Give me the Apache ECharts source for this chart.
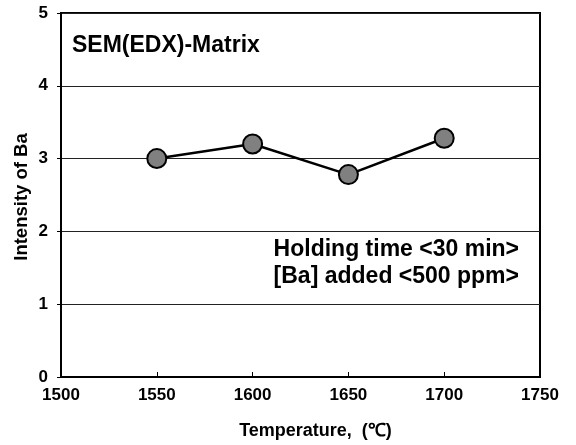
<!DOCTYPE html>
<html><head><meta charset="utf-8">
<script src="https://cdn.jsdelivr.net/npm/echarts@6/dist/echarts.min.js"></script>
<style>html,body{margin:0;padding:0;background:#fff}#c{width:576px;height:445px}</style>
</head><body><div id="c"></div>
<script>
const temperatures = [1550, 1600, 1650, 1700];
const intensity = [3.0, 3.2, 2.78, 3.28];
const xTicks = [1500, 1550, 1600, 1650, 1700, 1750];
const yTicks = [0, 1, 2, 3, 4, 5];
const F = '"Liberation Sans", Arial, sans-serif';
const chart = echarts.init(document.getElementById('c'));
chart.setOption({
  animation: false,
  backgroundColor: '#fff',
  grid: {left: 61, right: 36, top: 13, bottom: 66, show: true, borderColor: '#000', borderWidth: 2, backgroundColor: 'transparent'},
  xAxis: {
    type: 'value', min: xTicks[0], max: xTicks[xTicks.length-1], interval: 50,
    name: 'Temperature,  (\u2103)', nameLocation: 'middle', nameGap: 45,
    nameTextStyle: {fontFamily: F, fontWeight: 'bold', fontSize: 18, color: '#000', padding: [0, 0, 0, 30]},
    axisLine: {show: true, lineStyle: {color: '#000', width: 2}},
    axisTick: {show: true, inside: true, length: 5, lineStyle: {color: '#000', width: 1}},
    axisLabel: {fontFamily: F, fontWeight: 'bold', fontSize: 17, color: '#000', margin: 10, formatter: v => String(v)},
    splitLine: {show: false}
  },
  yAxis: {
    type: 'value', min: yTicks[0], max: yTicks[yTicks.length-1], interval: 1,
    axisLine: {show: true, lineStyle: {color: '#000', width: 2}},
    axisTick: {show: true, inside: false, length: 4, lineStyle: {color: '#000', width: 1}},
    axisLabel: {fontFamily: F, fontWeight: 'bold', fontSize: 17, color: '#000', margin: 13, formatter: v => String(v)},
    splitLine: {show: true, lineStyle: {color: '#222', width: 1}}
  },
  series: [{
    type: 'line',
    data: temperatures.map((t, i) => [t, intensity[i]]),
    symbol: 'circle', symbolSize: 19,
    lineStyle: {color: '#000', width: 2.5},
    itemStyle: {color: '#808080', borderColor: '#000', borderWidth: 2}
  }],
  graphic: [
    {type: 'text', x: 22, y: 197, rotation: Math.PI / 2, style: {text: 'Intensity of Ba', font: 'bold 18.5px ' + F, fill: '#000', align: 'center', verticalAlign: 'middle'}},
    {type: 'text', left: 72, top: 34, style: {text: 'SEM(EDX)-Matrix', font: 'bold 23px ' + F, fill: '#000'}},
    {type: 'text', right: 57, top: 238, style: {text: 'Holding time <30 min>', font: 'bold 23px ' + F, fill: '#000'}},
    {type: 'text', right: 57, top: 265, style: {text: '[Ba] added <500 ppm>', font: 'bold 23px ' + F, fill: '#000'}}
  ]
});
</script></body></html>
